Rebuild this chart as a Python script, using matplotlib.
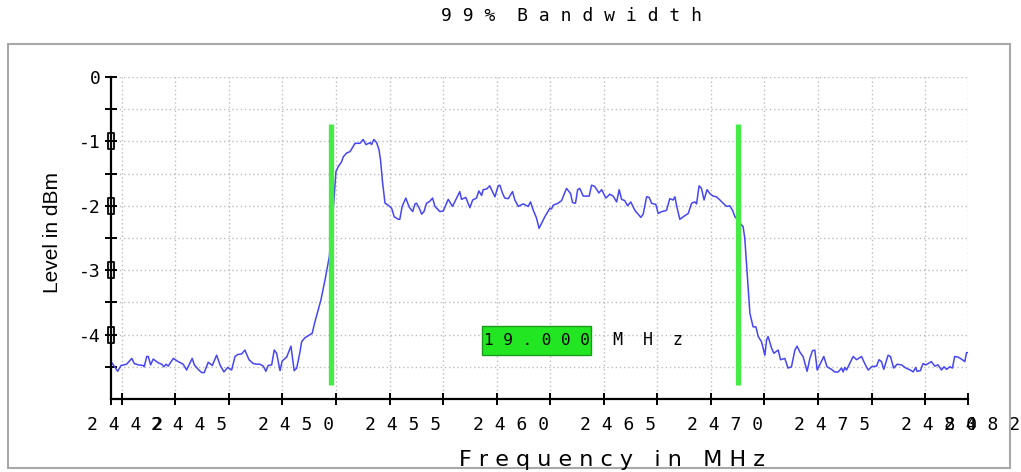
import matplotlib
matplotlib.use("Agg")
import matplotlib.pyplot as plt
import matplotlib.transforms as mtransforms
from matplotlib.path import Path
from matplotlib.patches import Rectangle

# measured trace (MHz, dBm)
freq = [
    2442.00, 2442.11, 2442.31, 2442.47, 2442.73, 2442.97, 2443.09, 2443.27, 2443.51, 2443.55,
    2443.67, 2443.74, 2443.85, 2443.97, 2444.21, 2444.37, 2444.47, 2444.57, 2444.67, 2444.91,
    2445.14, 2445.37, 2445.53, 2445.79, 2445.89, 2446.07, 2446.23, 2446.35, 2446.54, 2446.73,
    2446.93, 2447.09, 2447.27, 2447.45, 2447.63, 2447.79, 2447.91, 2448.10, 2448.25, 2448.44,
    2448.64, 2448.80, 2448.95, 2449.11, 2449.23, 2449.34, 2449.50, 2449.62, 2449.73, 2449.89,
    2449.99, 2450.20, 2450.40, 2450.55, 2450.67, 2450.82, 2450.90, 2451.05, 2451.24, 2451.39,
    2451.52, 2451.67, 2451.80, 2451.99, 2452.19, 2452.37, 2452.50, 2452.61, 2452.76, 2452.84,
    2453.00, 2453.15, 2453.23, 2453.39, 2453.62, 2453.77, 2453.90, 2454.09, 2454.16, 2454.27,
    2454.40, 2454.51, 2454.58, 2454.68, 2454.79, 2454.94, 2455.10, 2455.22, 2455.41, 2455.48,
    2455.59, 2455.76, 2455.92, 2456.08, 2456.19, 2456.26, 2456.39, 2456.50, 2456.61, 2456.73,
    2456.88, 2457.01, 2457.12, 2457.35, 2457.51, 2457.74, 2457.94, 2458.13, 2458.28, 2458.36,
    2458.56, 2458.75, 2458.88, 2459.06, 2459.17, 2459.30, 2459.37, 2459.53, 2459.68, 2459.76,
    2459.92, 2460.07, 2460.15, 2460.28, 2460.38, 2460.54, 2460.74, 2460.85, 2461.01, 2461.24,
    2461.47, 2461.58, 2461.71, 2461.86, 2461.98, 2462.10, 2462.25, 2462.48, 2462.56, 2462.64,
    2462.87, 2463.03, 2463.26, 2463.45, 2463.54, 2463.68, 2463.78, 2463.88, 2464.04, 2464.32,
    2464.43, 2464.58, 2464.77, 2464.90, 2465.10, 2465.28, 2465.44, 2465.60, 2465.72, 2465.83,
    2465.98, 2466.11, 2466.26, 2466.45, 2466.58, 2466.73, 2466.84, 2467.00, 2467.12, 2467.23,
    2467.43, 2467.54, 2467.70, 2467.85, 2467.93, 2468.08, 2468.24, 2468.32, 2468.40, 2468.55,
    2468.71, 2468.94, 2469.10, 2469.25, 2469.33, 2469.45, 2469.56, 2469.68, 2469.82, 2469.95,
    2470.10, 2470.26, 2470.42, 2470.57, 2470.73, 2470.88, 2471.01, 2471.12, 2471.27, 2471.43,
    2471.50, 2471.58, 2471.63, 2471.74, 2471.82, 2471.97, 2472.10, 2472.21, 2472.36, 2472.52,
    2472.60, 2472.67, 2472.83, 2472.94, 2473.14, 2473.25, 2473.45, 2473.60, 2473.76, 2473.92,
    2474.02, 2474.15, 2474.30, 2474.49, 2474.62, 2474.74, 2474.85, 2474.96, 2475.08, 2475.27,
    2475.42, 2475.63, 2475.78, 2475.94, 2476.10, 2476.17, 2476.25, 2476.33, 2476.45, 2476.64,
    2476.80, 2477.03, 2477.18, 2477.34, 2477.50, 2477.73, 2477.85, 2477.96, 2478.07, 2478.27,
    2478.38, 2478.53, 2478.69, 2478.89, 2479.10, 2479.31, 2479.44, 2479.56, 2479.62, 2479.78,
    2479.90, 2480.03, 2480.14, 2480.29, 2480.45, 2480.60, 2480.76, 2480.88, 2481.00, 2481.15,
    2481.27, 2481.38, 2481.54, 2481.69, 2481.85, 2481.93, 2482.00,
]
level = [
    -4.42, -4.47, -4.57, -4.48, -4.46, -4.37, -4.45, -4.47, -4.48, -4.50,
    -4.34, -4.34, -4.47, -4.38, -4.44, -4.46, -4.50, -4.46, -4.49, -4.37,
    -4.42, -4.46, -4.55, -4.37, -4.47, -4.54, -4.59, -4.59, -4.43, -4.48,
    -4.32, -4.47, -4.58, -4.51, -4.55, -4.34, -4.31, -4.30, -4.24, -4.39,
    -4.45, -4.46, -4.46, -4.49, -4.57, -4.48, -4.47, -4.24, -4.29, -4.56,
    -4.41, -4.35, -4.18, -4.56, -4.52, -4.27, -4.11, -4.05, -4.01, -3.98,
    -3.80, -3.62, -3.46, -3.15, -2.79, -2.07, -1.47, -1.39, -1.32, -1.24,
    -1.18, -1.16, -1.12, -1.03, -1.03, -0.97, -1.05, -1.02, -1.05, -0.97,
    -1.02, -1.13, -1.29, -1.65, -1.96, -1.99, -2.04, -2.17, -2.21, -2.21,
    -2.01, -1.88, -2.02, -2.09, -1.97, -1.96, -2.04, -2.13, -2.09, -1.96,
    -1.93, -1.88, -2.01, -2.09, -2.08, -1.90, -2.01, -1.88, -1.78, -1.90,
    -1.87, -2.03, -1.91, -1.88, -1.77, -1.84, -1.75, -1.74, -1.69, -1.75,
    -1.86, -1.69, -1.68, -1.81, -1.88, -1.89, -1.78, -1.91, -2.01, -1.97,
    -2.01, -1.94, -2.07, -2.19, -2.35, -2.27, -2.17, -2.04, -2.05, -1.99,
    -1.96, -1.92, -1.73, -1.81, -1.95, -1.96, -1.75, -1.73, -1.85, -1.85,
    -1.68, -1.70, -1.80, -1.75, -1.88, -1.82, -1.85, -1.94, -1.75, -1.90,
    -1.92, -2.00, -1.94, -2.07, -2.12, -2.18, -2.13, -1.86, -1.87, -1.96,
    -1.98, -2.12, -2.09, -2.08, -2.07, -1.89, -1.91, -1.86, -2.00, -2.21,
    -2.17, -2.12, -1.96, -1.94, -1.97, -1.69, -1.73, -1.91, -1.75, -1.81,
    -1.85, -1.86, -1.91, -1.96, -2.01, -2.00, -2.07, -2.17, -2.22, -2.30,
    -2.32, -2.50, -2.74, -3.26, -3.67, -3.88, -3.88, -4.03, -4.11, -4.32,
    -4.08, -4.03, -4.21, -4.29, -4.24, -4.39, -4.37, -4.52, -4.50, -4.24,
    -4.18, -4.27, -4.34, -4.57, -4.37, -4.25, -4.24, -4.55, -4.47, -4.34,
    -4.50, -4.54, -4.58, -4.58, -4.52, -4.58, -4.51, -4.55, -4.47, -4.34,
    -4.39, -4.34, -4.45, -4.55, -4.50, -4.49, -4.39, -4.42, -4.54, -4.32,
    -4.34, -4.52, -4.46, -4.47, -4.52, -4.55, -4.58, -4.51, -4.57, -4.56,
    -4.45, -4.47, -4.45, -4.42, -4.49, -4.47, -4.55, -4.50, -4.54, -4.50,
    -4.52, -4.34, -4.35, -4.38, -4.42, -4.28, -4.28,
]

# occupied bandwidth markers
bw = 19.000
f_low = 2452.27
f_high = f_low + bw
marker_top = -0.73
marker_bottom = -4.78

x_ticks = [2442, 2442.5, 2445, 2447.5, 2450, 2452.5, 2455, 2457.5, 2460,
           2462.5, 2465, 2467.5, 2470, 2472.5, 2475, 2477.5, 2480, 2482]
x_labels = [2442, 2445, 2450, 2455, 2460, 2465, 2470, 2475, 2480, 2482]
y_major = [0, -1, -2, -3, -4]
y_minor = [-0.5, -1.5, -2.5, -3.5, -4.5]

MONO = "DejaVu Sans Mono"
BLUE = "#4646f5"
GREEN = "#46eb46"


def spaced(s):
    return " ".join(str(s))


fig = plt.figure(figsize=(10.21, 4.72), dpi=100)

# outer panel frame
fig.patches.append(Rectangle((0.0078, 0.0085), 0.9814, 0.8983, transform=fig.transFigure,
                             fill=False, edgecolor="#a8a8a8", linewidth=1.5))

ax = fig.add_axes([0.1087, 0.1547, 0.8394, 0.6822])
ax.set_xlim(2442, 2482)
ax.set_ylim(-5, 0)

# dotted grid
for x in x_ticks[1:]:
    ax.axvline(x, color="#bdbdbd", lw=1.0, ls=(0, (1, 2)), zorder=0)
for y in y_major + y_minor:
    ax.axhline(y, color="#bdbdbd", lw=1.0, ls=(0, (1, 2)), zorder=0)

ax.plot(freq, level, color=BLUE, lw=1.1, zorder=2)
ax.vlines([f_low, f_high], marker_bottom, marker_top, color=GREEN, lw=3.8, zorder=3)

for side in ("top", "right"):
    ax.spines[side].set_visible(False)
for side in ("left", "bottom"):
    ax.spines[side].set_linewidth(1.6)
    ax.spines[side].set_color("black")

ax.set_xticks(x_ticks)
ax.set_xticklabels([])
ax.tick_params(axis="x", direction="inout", length=9, width=1.4, color="black")

ax.set_yticks(y_major)
ax.set_yticks(y_minor, minor=True)
ax.set_yticklabels([str(v) for v in y_major], fontfamily=MONO, fontsize=13)
ax.tick_params(axis="y", which="both", direction="inout", length=9, width=1.4,
               color="black", pad=3)

# integer y ticks carry an extra ring round the axis
ring = Path([(-0.35, -1), (0.35, -1), (0.35, 1), (-0.35, 1), (-0.35, -1)],
            [Path.MOVETO, Path.LINETO, Path.LINETO, Path.LINETO, Path.CLOSEPOLY])
ax.plot([2442] * len(y_major[1:]), y_major[1:], ls="none", marker=ring, markersize=11,
        markerfacecolor="none", markeredgecolor="black", markeredgewidth=1.3,
        clip_on=False, zorder=4)

# frequency labels, letter spaced and shifted right of their positions
shift = mtransforms.ScaledTranslation(0.14, 0, fig.dpi_scale_trans)
lab_tr = mtransforms.blended_transform_factory(ax.transData, ax.transAxes) + shift
for f in x_labels:
    ax.text(f, -0.08, spaced(f), transform=lab_tr, ha="center", va="center",
            fontfamily=MONO, fontsize=13)

fig.text(0.051, 0.508, "Level in dBm", rotation=90, ha="center", va="center",
         fontfamily="Liberation Sans", fontsize=15)
fig.text(0.599, 0.026, "F r e q u e n c y   i n   M H z", ha="center", va="center",
         fontfamily="DejaVu Sans", fontsize=16)
fig.text(0.560, 0.966, spaced("99% Bandwidth").replace("%  ", "% "), ha="center",
         va="center", fontfamily=MONO, fontsize=13)

# bandwidth readout
ax.add_patch(Rectangle((0.4329, 0.1366), 0.1272, 0.0901, transform=ax.transAxes,
                       facecolor="#22e622", edgecolor="#1a9a1a", lw=1.0, zorder=5))
ax.text(0.4965, 0.1817, spaced(f"{bw:.3f}"), transform=ax.transAxes, ha="center",
        va="center", fontfamily=MONO, fontsize=11.5, zorder=6)
ax.text(0.6266, 0.1817, "M  H  z", transform=ax.transAxes, ha="center", va="center",
        fontfamily=MONO, fontsize=12)

fig.savefig("out.png", dpi=100)
